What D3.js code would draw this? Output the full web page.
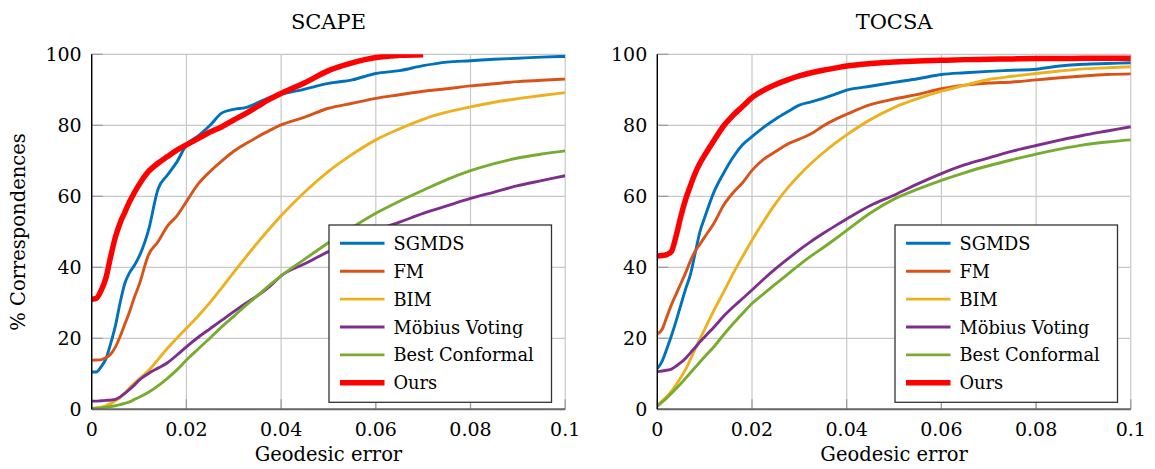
<!DOCTYPE html>
<html>
<head>
<meta charset="utf-8">
<script src="https://cdn.jsdelivr.net/npm/d3@7"></script>
<style>
  body { margin: 0; background: #fff; }
</style>
</head>
<body>
<svg id="chart" width="1155" height="469"></svg>
<script>
// geodesic error grid shared by every curve
var errors = [0, .001, .002, .003, .004, .005, .006, .007, .008, .009, .010, .012, .014, .016, .018, .020,
  .0225, .025, .0275, .030, .0325, .035, .0375, .040, .045, .050, .055, .060, .065, .070, .075, .080,
  .085, .090, .095, .100];

var methods = ['SGMDS', 'FM', 'BIM', 'Möbius Voting', 'Best Conformal', 'Ours'];
var colors = ['#0072BD', '#D95319', '#EDB120', '#7E2F8E', '#77AC30', '#FF0000'];

var xTicks = [0, 0.02, 0.04, 0.06, 0.08, 0.1];
var xTickLabels = ['0', '0.02', '0.04', '0.06', '0.08', '0.1'];
var yTicks = [0, 20, 40, 60, 80, 100];

// SCAPE
var scapeSgmds = [10.5, 10.5, 12, 14.2, 18.5, 23.5, 30, 35.5, 38.5, 40.5, 43, 50.5, 62, 66, 69.7, 74.5,
  77, 80, 83.5, 84.5, 85, 86.3, 87.8, 88.7, 90.2, 91.8, 92.8, 94.6, 95.4, 96.8, 97.8, 98.2, 98.6, 98.9, 99.2, 99.4];
var scapeFm = [13.8, 13.9, 14, 14.5, 15.5, 17.5, 20.5, 24, 27.5, 31.5, 35, 43.5, 47.2, 51.6, 54.5, 58.5,
  63.5, 67, 70, 72.7, 74.8, 76.7, 78.5, 80.1, 82.3, 84.8, 86.2, 87.6, 88.6, 89.6, 90.3, 91.1, 91.7, 92.3, 92.7, 93];
var scapeBim = [0.3, 0.4, 0.6, 1, 1.6, 2.4, 3.3, 4.5, 6, 7.3, 8.5, 10.9, 14, 17.2, 20, 22.8,
  26.3, 30.1, 34.3, 38.6, 42.8, 46.9, 50.8, 54.5, 61.2, 67, 71.8, 75.9, 79, 81.7, 83.7, 85.2, 86.5, 87.5, 88.4, 89.2];
var scapeMobius = [2.3, 2.3, 2.4, 2.5, 2.6, 2.8, 3.5, 4.5, 5.6, 6.8, 8.2, 10.1, 11.6, 13.1, 15.3, 17.6,
  20.3, 22.7, 25.1, 27.5, 29.8, 32, 34.5, 37.6, 41, 44.4, 47.4, 50.4, 52.7, 55.2, 57.3, 59.4, 61.2, 63, 64.4, 65.8];
var scapeConformal = [0.2, 0.3, 0.4, 0.6, 0.8, 1.0, 1.3, 1.7, 2.1, 2.8, 3.4, 4.8, 6.6, 8.7, 11.1, 13.9,
  17, 20.1, 23.3, 26.2, 29.2, 32, 34.9, 37.6, 42.3, 46.9, 51.2, 55.2, 58.6, 61.7, 64.7, 67.2, 69.2, 70.8, 71.9, 72.8];
var scapeOurs = [31, 31.3, 33.5, 37, 43, 48.5, 52.5, 55.5, 58.5, 61, 63.3, 67, 69.3, 71.2, 73, 74.5,
  76.3, 78.1, 79.6, 81.5, 83.3, 85.3, 87.3, 89, 92, 95.4, 97.6, 99.1, 99.7, 99.9, null, null, null, null, null, null];

// TOCSA
var tocsaSgmds = [11.5, 13.5, 17, 20.8, 25, 29.5, 34, 38, 44, 50, 54, 61.3, 66.5, 71, 74.5, 76.8,
  79.5, 81.8, 83.8, 85.7, 86.6, 87.6, 88.7, 89.9, 91, 92.1, 93.1, 94.3, 94.8, 95.2, 95.5, 95.8, 96.7, 97.2, 97.4, 97.6];
var tocsaFm = [21.2, 22.5, 26, 29.5, 32.5, 35.5, 38.5, 41.8, 44.5, 46.5, 48.5, 52.5, 57.5, 61, 63.8, 67.3,
  70.5, 72.6, 74.7, 76.1, 77.6, 79.8, 81.6, 83.1, 85.8, 87.4, 88.7, 90.3, 91.3, 91.9, 92.2, 92.8, 93.4, 93.9, 94.3, 94.5];
var tocsaBim = [1.2, 2.3, 3.6, 5.1, 7, 9, 11.3, 14.1, 17, 19.8, 22.5, 28, 33, 38.2, 43, 47.6,
  53, 58, 62.3, 66, 69.3, 72.2, 74.9, 77.3, 81.6, 85, 87.5, 89.6, 91.3, 92.9, 93.8, 94.6, 95.3, 95.9, 96.2, 96.5];
var tocsaMobius = [10.6, 10.8, 11, 11.3, 12.2, 13.2, 14.4, 15.9, 17.4, 19, 20.4, 23.2, 26.2, 28.8, 31.2, 33.6,
  36.7, 39.6, 42.3, 44.9, 47.3, 49.5, 51.6, 53.6, 57.4, 60.3, 63.5, 66.4, 68.9, 70.8, 72.7, 74.3, 75.8, 77.2, 78.4, 79.6];
var tocsaConformal = [0.9, 2, 3.2, 4.5, 5.9, 7.3, 8.8, 10.3, 11.8, 13.3, 14.8, 17.7, 21, 24.1, 27, 29.8,
  32.6, 35.3, 38, 40.7, 43.2, 45.5, 47.9, 50.4, 55.3, 59.2, 62, 64.5, 66.7, 68.6, 70.3, 71.9, 73.3, 74.5, 75.3, 75.9];
var tocsaOurs = [43.2, 43.3, 43.6, 44.5, 49, 54.5, 59.2, 63, 66.5, 69.3, 71.6, 75.8, 79.8, 82.8, 85.3, 87.8,
  89.9, 91.5, 92.8, 93.9, 94.8, 95.5, 96.1, 96.7, 97.4, 97.8, 98.1, 98.3, 98.5, 98.6, 98.7, 98.8, 98.8, 98.9, 98.9, 98.9];

var FONT = "'DejaVu Serif', serif";
var W = 473.5, H = 355;
var svg = d3.select('#chart').attr('font-family', FONT);

var x = d3.scaleLinear().domain([0, 0.1]).range([0, W]);
var y = d3.scaleLinear().domain([0, 100]).range([H, 0]);

var line = d3.line()
  .defined(function(d) { return d[1] != null; })
  .x(function(d) { return x(d[0]); })
  .y(function(d) { return y(d[1]); })
  .curve(d3.curveMonotoneX);

function panel(id, left, title, curves, legendX) {
  var g = svg.append('g').attr('transform', 'translate(' + left + ',54.3)');

  g.append('clipPath').attr('id', 'clip-' + id)
    .append('rect').attr('width', W).attr('height', H);

  // grid
  g.selectAll('.gx').data(xTicks).enter().append('line')
    .attr('x1', function(d) { return x(d); }).attr('x2', function(d) { return x(d); })
    .attr('y1', 0).attr('y2', H)
    .attr('stroke', '#c8c8c8').attr('stroke-width', 1.2);
  g.selectAll('.gy').data(yTicks).enter().append('line')
    .attr('x1', 0).attr('x2', W)
    .attr('y1', function(d) { return y(d); }).attr('y2', function(d) { return y(d); })
    .attr('stroke', '#c8c8c8').attr('stroke-width', 1.2);

  // inner ticks
  g.selectAll('.ty').data(yTicks).enter().append('line')
    .attr('x1', 0).attr('x2', 11)
    .attr('y1', function(d) { return y(d); }).attr('y2', function(d) { return y(d); })
    .attr('stroke', '#999').attr('stroke-width', 1.2);
  g.selectAll('.tx').data(xTicks).enter().append('line')
    .attr('x1', function(d) { return x(d); }).attr('x2', function(d) { return x(d); })
    .attr('y1', H).attr('y2', H - 10)
    .attr('stroke', '#999').attr('stroke-width', 1.2);

  // curves
  var plot = g.append('g').attr('clip-path', 'url(#clip-' + id + ')');
  curves.forEach(function(vals, i) {
    plot.append('path')
      .datum(errors.map(function(e, j) { return [e, vals[j]]; }))
      .attr('d', line)
      .attr('fill', 'none')
      .attr('stroke', colors[i])
      .attr('stroke-width', i == 5 ? 5.5 : 2.9)
      .attr('stroke-linejoin', 'round');
  });

  // axis lines
  g.append('line').attr('x1', 0).attr('x2', W).attr('y1', H).attr('y2', H)
    .attr('stroke', '#666').attr('stroke-width', 2);
  g.append('line').attr('x1', 0).attr('x2', 0).attr('y1', 0).attr('y2', H)
    .attr('stroke', '#000').attr('stroke-width', 1.4);

  // tick labels
  g.selectAll('.lx').data(xTicks).enter().append('text')
    .attr('x', function(d) { return x(d); }).attr('y', H + 27)
    .attr('text-anchor', 'middle').attr('font-size', 19)
    .text(function(d, i) { return xTickLabels[i]; });
  g.selectAll('.ly').data(yTicks).enter().append('text')
    .attr('x', -10).attr('y', function(d) { return y(d) + 7; })
    .attr('text-anchor', 'end').attr('font-size', 19)
    .text(function(d) { return d; });

  g.append('text').attr('x', W / 2).attr('y', -25)
    .attr('text-anchor', 'middle').attr('font-size', 21).text(title);
  g.append('text').attr('x', W / 2).attr('y', H + 52)
    .attr('text-anchor', 'middle').attr('font-size', 19.5).text('Geodesic error');

  // legend
  var lg = svg.append('g').attr('transform', 'translate(' + legendX + ',225)');
  lg.append('rect').attr('width', 222.5).attr('height', 177.3)
    .attr('fill', '#fff').attr('stroke', '#333').attr('stroke-width', 1.3);
  methods.forEach(function(m, i) {
    var ry = 18.3 + i * 27.9;
    lg.append('line').attr('x1', 11).attr('x2', 55.5).attr('y1', ry).attr('y2', ry)
      .attr('stroke', colors[i]).attr('stroke-width', i == 5 ? 5.5 : 2.9);
    lg.append('text').attr('x', 64.5).attr('y', ry + 6.5).attr('font-size', 17.8).text(m);
  });
}

panel('scape', 91.7, 'SCAPE',
  [scapeSgmds, scapeFm, scapeBim, scapeMobius, scapeConformal, scapeOurs], 329);
panel('tocsa', 657.3, 'TOCSA',
  [tocsaSgmds, tocsaFm, tocsaBim, tocsaMobius, tocsaConformal, tocsaOurs], 895);

svg.append('text')
  .attr('transform', 'translate(25,232) rotate(-90)')
  .attr('text-anchor', 'middle').attr('font-size', 19.5)
  .text('% Correspondences');
</script>
</body>
</html>
